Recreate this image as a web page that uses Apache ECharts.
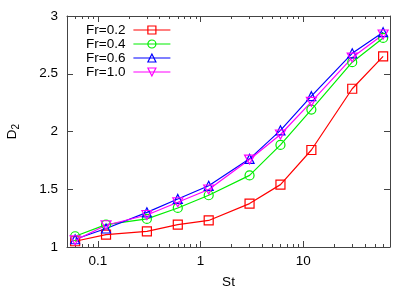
<!DOCTYPE html>
<html>
<head>
<meta charset="utf-8">
<script src="https://cdn.jsdelivr.net/npm/echarts@6/dist/echarts.min.js"></script>
<style>html,body{margin:0;padding:0;background:#fff}#c{width:415px;height:291px}</style>
</head>
<body>
<div id="c"></div>
<script>
const st = [0.06, 0.12, 0.3, 0.6, 1.2, 3, 6, 12, 30, 60];
const fr02 = [1.05, 1.107, 1.136, 1.194, 1.23, 1.376, 1.54, 1.84, 2.37, 2.65];
const fr04 = [1.093, 1.194, 1.243, 1.338, 1.448, 1.62, 1.884, 2.19, 2.60, 2.81];
const fr06 = [1.067, 1.16, 1.30, 1.416, 1.53, 1.763, 2.01, 2.306, 2.677, 2.86];
const fr10 = [1.058, 1.188, 1.277, 1.387, 1.498, 1.757, 1.974, 2.257, 2.64, 2.84];
const seriesNames = ['Fr=0.2', 'Fr=0.4', 'Fr=0.6', 'Fr=1.0'];
const xMajorTicks = [0.1, 1, 10];
const xMinorTicks = [0.06,0.07,0.08,0.09,0.2,0.3,0.4,0.5,0.6,0.7,0.8,0.9,2,3,4,5,6,7,8,9,20,30,40,50,60];

const colors = ['#ff0000', '#00ee00', '#0000ff', '#ff00ff'];
const symbols = ['rect', 'circle', 'triangle', 'path://M0,0 L10,0 L5,9 Z'];
const values = [fr02, fr04, fr06, fr10];
const font = 'Liberation Sans, Arial, sans-serif';
const frame = '#444';
const clear = 'rgba(255,255,255,0)';

function xAx(pos, ticks, len, showLine, showLabel, extra) {
  return Object.assign({
    type: 'log', logBase: 10, min: 0.05, max: 70, position: pos,
    axisLine: { show: showLine, onZero: false, lineStyle: { color: frame, width: 1 } },
    axisTick: { show: true, inside: true, length: len, customValues: ticks, lineStyle: { color: frame } },
    axisLabel: { show: showLabel, customValues: ticks, margin: 7, fontSize: 13.5, fontFamily: font, color: '#000',
      formatter: v => String(v) },
    splitLine: { show: false }
  }, extra || {});
}

const chart = echarts.init(document.getElementById('c'), null, { renderer: 'canvas' });
chart.setOption({
  animation: false,
  backgroundColor: '#fff',
  grid: { left: 67, right: 25, top: 16, bottom: 44, containLabel: false, outerBoundsMode: 'none' },
  legend: {
    orient: 'vertical', left: 81, top: 18, align: 'right',
    itemWidth: 37, itemHeight: 10, itemGap: 0,
    textStyle: { fontSize: 13.5, fontFamily: font, color: '#000', lineHeight: 14, padding: [0, 3, 0, 0] },
    data: seriesNames.map((n, i) => ({
      name: n,
      itemStyle: { color: clear, borderColor: colors[i], borderWidth: 1.2 },
      lineStyle: { color: colors[i], width: 1.2 }
    }))
  },
  xAxis: [
    xAx('bottom', xMajorTicks, 6, true, true, {
      name: 'St', nameLocation: 'middle', nameGap: 28,
      nameTextStyle: { fontSize: 13.5, fontFamily: font, color: '#000' }
    }),
    xAx('bottom', xMinorTicks, 3, false, false),
    xAx('top', xMajorTicks, 6, true, false),
    xAx('top', xMinorTicks, 3, false, false)
  ],
  yAxis: [
    {
      type: 'value', min: 1, max: 3, interval: 0.5, position: 'left',
      axisLine: { show: true, lineStyle: { color: frame } },
      axisTick: { show: true, inside: true, length: 6, lineStyle: { color: frame } },
      axisLabel: { margin: 9, fontSize: 13.5, fontFamily: font, color: '#000' },
      splitLine: { show: false },
      name: '{d|D}{s|2}', nameLocation: 'middle', nameGap: 46, nameRotate: 90,
      nameTextStyle: { rich: {
        d: { fontSize: 13.5, fontFamily: font, color: '#000' },
        s: { fontSize: 10, fontFamily: font, color: '#000', padding: [8, 0, 0, 0] }
      } }
    },
    {
      type: 'value', min: 1, max: 3, interval: 0.5, position: 'right',
      axisLine: { show: true, lineStyle: { color: frame } },
      axisTick: { show: true, inside: true, length: 6, lineStyle: { color: frame } },
      axisLabel: { show: false }, splitLine: { show: false }
    }
  ],
  series: seriesNames.map((n, i) => ({
    name: n, type: 'line', xAxisIndex: 0, yAxisIndex: 0,
    data: st.map((x, k) => [x, values[i][k]]),
    symbol: symbols[i], symbolSize: i === 3 ? [10, 9] : 9,
    showAllSymbol: true,
    lineStyle: { color: colors[i], width: 1.2 },
    itemStyle: { color: clear, borderColor: colors[i], borderWidth: 1.2 },
    emphasis: { disabled: true }
  }))
});
</script>
</body>
</html>
